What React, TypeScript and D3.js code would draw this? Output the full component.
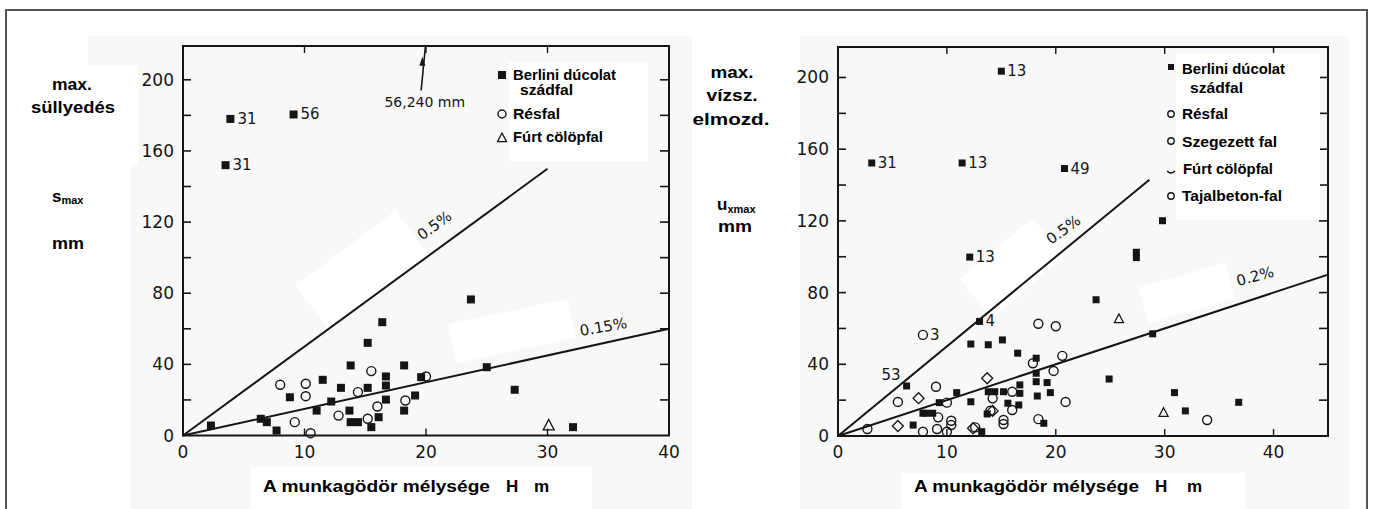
import React from 'react';
import * as d3 from 'd3';

// ---------- data ----------
const xTicks = [0, 10, 20, 30, 40];
const yTickLabels = [0, 40, 80, 120, 160, 200];
const yTickMarks = [20, 40, 60, 80, 100, 120, 140, 160, 180, 200];
const xTickMarks = [10, 20, 30, 40];

// left chart: max. süllyedés (H m, s mm)
const leftSquares: [number, number][] = [
  [2.3, 5.6], [6.4, 9.4], [6.9, 7.5], [7.7, 2.8], [8.8, 21.5], [11.0, 14], [11.5, 31.3],
  [12.2, 19.1], [13.0, 26.8], [13.7, 14], [13.8, 39.4], [13.8, 7.5], [14.4, 7.5], [15.2, 52.1],
  [15.2, 26.8], [15.5, 4.7], [16.1, 10.3], [16.4, 63.7], [16.7, 33.2], [16.7, 28.1], [16.7, 20.2],
  [18.2, 39.4], [18.2, 14], [19.1, 22.5], [19.6, 32.8], [23.7, 76.5], [25.0, 38.4], [27.3, 25.7],
  [32.1, 4.7],
];
const leftLabeled = [
  { h: 3.9, v: 178, label: '31' },
  { h: 3.5, v: 152, label: '31' },
  { h: 9.1, v: 180.5, label: '56' },
];
const leftCircles: [number, number][] = [
  [8.0, 28.5], [10.1, 29.1], [10.1, 22.1], [9.2, 7.5], [10.5, 1.3], [12.8, 11.2], [14.4, 24.4],
  [15.5, 36.2], [15.2, 9.4], [16.0, 16.3], [18.3, 19.7], [20.0, 33.2],
];
const leftTriangles: [number, number][] = [[30.1, 5.6]];
const leftLines = [
  { label: '0.5%', k: 5, hEnd: 30, lh: 20.7, lv: 118, rot: -36 },
  { label: '0.15%', k: 1.5, hEnd: 40, lh: 34.6, lv: 61, rot: -10 },
];
const leftLegend = ['Berlini dúcolat', 'szádfal', 'Résfal', 'Fúrt cölöpfal'];

// right chart: max. vízsz. elmozd. (H m, u mm)
const rightSquares: [number, number][] = [
  [12.2, 51.3], [13.8, 50.9], [15.1, 53.6], [16.5, 46.2], [18.2, 43.4], [18.2, 35.0], [18.2, 30.3],
  [18.3, 22.3], [19.2, 29.8], [19.5, 24.2], [18.9, 7.1], [16.7, 28.5], [16.7, 23.8], [16.6, 17.3],
  [15.6, 18.3], [15.2, 24.7], [14.4, 24.7], [13.8, 24.7], [13.7, 12.3], [12.2, 19.1], [10.9, 24.2],
  [9.3, 18.6], [8.7, 12.7], [8.1, 12.7], [7.8, 12.7], [6.9, 6.1], [13.2, 2.4], [23.7, 76.0],
  [24.9, 31.8], [27.4, 99.5], [27.4, 102.5], [28.9, 57.0], [30.9, 24.2], [31.9, 14.0], [36.8, 18.8],
  [29.8, 120.1],
];
const rightLabeled = [
  { h: 12.1, v: 99.8, label: '13' },
  { h: 13.0, v: 63.9, label: '4' },
  { h: 6.3, v: 27.9, label: '53' },
  { h: 15.0, v: 203.5, label: '13' },
  { h: 3.1, v: 152.3, label: '31' },
  { h: 11.4, v: 152.3, label: '13' },
  { h: 20.8, v: 149.2, label: '49' },
];
const rightCircles: [number, number][] = [
  [2.7, 3.9], [5.5, 19.0], [7.8, 2.4], [9.0, 27.5], [9.2, 10.4], [9.1, 3.9], [10.0, 18.6],
  [10.0, 2.4], [10.4, 8.5], [10.4, 6.1], [12.6, 4.8], [14.2, 21.0], [15.2, 8.9], [15.2, 6.7],
  [16.0, 14.5], [16.0, 24.7], [17.9, 40.6], [18.4, 62.6], [20.0, 61.2], [19.8, 36.3], [20.6, 44.7],
  [20.9, 19.0], [18.4, 9.4], [14.0, 14.1], [33.9, 8.9],
];
const rightLabeledCircles = [{ h: 7.8, v: 56.4, label: '3' }];
const rightDiamonds: [number, number][] = [
  [5.5, 5.6], [7.4, 21.1], [13.7, 32.2], [12.4, 4.3], [14.2, 14.0],
];
const rightTriangles: [number, number][] = [[25.8, 65.3], [29.9, 13.0]];
const rightLines = [
  { label: '0.5%', k: 5, hEnd: 28.6, lh: 20.7, lv: 115, rot: -36 },
  { label: '0.2%', k: 2, hEnd: 45, lh: 38.3, lv: 89, rot: -15 },
];
const rightLegend = ['Berlini dúcolat', 'szádfal', 'Résfal', 'Szegezett fal', 'Fúrt cölöpfal', 'Tajalbeton-fal'];

// ---------- styles ----------
const INK = '#151515';
const SCAN = '#f8f8f8';
const TICKFONT = 'DejaVu Sans, sans-serif';
const LABFONT = 'Liberation Sans, Arial, sans-serif';

const Square = ({ x, y, s = 8 }: { x: number; y: number; s?: number }) => (
  <rect x={x - s / 2} y={y - s / 2} width={s} height={s} fill={INK} />
);
const Circle = ({ x, y, r = 4.5 }: { x: number; y: number; r?: number }) => (
  <circle cx={x} cy={y} r={r} fill="none" stroke={INK} strokeWidth={1.4} />
);
const Tri = ({ x, y, s = 10 }: { x: number; y: number; s?: number }) => {
  const p = d3.path();
  p.moveTo(x, y - s * 0.55);
  p.lineTo(x + s / 2, y + s * 0.4);
  p.lineTo(x - s / 2, y + s * 0.4);
  p.closePath();
  return <path d={p.toString()} fill="none" stroke={INK} strokeWidth={1.3} />;
};
const Diamond = ({ x, y, s = 5.5 }: { x: number; y: number; s?: number }) => {
  const p = d3.path();
  p.moveTo(x, y - s);
  p.lineTo(x + s, y);
  p.lineTo(x, y + s);
  p.lineTo(x - s, y);
  p.closePath();
  return <path d={p.toString()} fill="none" stroke={INK} strokeWidth={1.3} />;
};

function Frame({ x, y, xMax, yMax, xMarks }: any) {
  const [x0, x1] = [x(0), x(xMax)];
  const [y0, y1] = [y(0), y(yMax)];
  return (
    <g>
      <rect x={x0} y={y1} width={x1 - x0} height={y0 - y1} fill="none" stroke={INK} strokeWidth={2} />
      {yTickMarks.map((t) => (
        <g key={'y' + t}>
          <line x1={x0} x2={x0 + 8} y1={y(t)} y2={y(t)} stroke={INK} strokeWidth={1.6} />
          <line x1={x1 - 9} x2={x1} y1={y(t)} y2={y(t)} stroke={INK} strokeWidth={1.6} />
        </g>
      ))}
      {xMarks.map((t: number) => (
        <g key={'x' + t}>
          <line x1={x(t)} x2={x(t)} y1={y1} y2={y1 + 7} stroke={INK} strokeWidth={1.4} />
          <line x1={x(t)} x2={x(t)} y1={y0} y2={y0 - 7} stroke={INK} strokeWidth={1.4} />
        </g>
      ))}
      {xTicks.map((t) => (
        <text key={'xl' + t} x={x(t)} y={458} textAnchor="middle" fontFamily={TICKFONT} fontSize={17} fill={INK}>
          {t}
        </text>
      ))}
      {yTickLabels.map((t) => (
        <text key={'yl' + t} x={x0 - 9} y={y(t) + 6} textAnchor="end" fontFamily={TICKFONT} fontSize={17} fill={INK}>
          {t}
        </text>
      ))}
    </g>
  );
}

function RatioLines({ x, y, lines }: any) {
  return (
    <g>
      {lines.map((l: any) => {
        const line = d3.line<[number, number]>().x((d) => x(d[0])).y((d) => y(d[1]));
        return (
          <g key={l.label}>
            <path d={line([[0, 0], [l.hEnd, l.k * l.hEnd]]) || ''} stroke={INK} strokeWidth={2} fill="none" />
            <text
              transform={`translate(${x(l.lh)},${y(l.lv)}) rotate(${l.rot})`}
              textAnchor="middle"
              dominantBaseline="central"
              fontFamily={TICKFONT}
              fontSize={15}
              fill={INK}
            >
              {l.label}
            </text>
          </g>
        );
      })}
    </g>
  );
}

const LegText = ({ x, y, w, children }: any) => (
  <text x={x} y={y} fontFamily={LABFONT} fontWeight="bold" fontSize={15} fill="#000" textLength={w} lengthAdjust="spacingAndGlyphs">
    {children}
  </text>
);

function Patch({ cx, cy, w, h, rot }: any) {
  return <rect x={-w / 2} y={-h / 2} width={w} height={h} fill="#fff" transform={`translate(${cx},${cy}) rotate(${rot})`} />;
}

export default function App() {
  const xL = d3.scaleLinear().domain([0, 40]).range([183, 669]);
  const yL = d3.scaleLinear().domain([0, 219]).range([435.5, 46]);
  const xR = d3.scaleLinear().domain([0, 45]).range([838, 1328]);
  const yR = d3.scaleLinear().domain([0, 217]).range([436, 47]);

  return (
    <svg width={1375} height={509} style={{ position: 'absolute', left: 0, top: 0, display: 'block' }}>
      <rect x={0} y={0} width={1375} height={509} fill="#fff" />
      {/* scanned regions */}
      <rect x={88} y={36} width={604} height={480} fill={SCAN} />
      <rect x={800} y={36} width={549} height={480} fill={SCAN} />
      {/* pasted white label boxes */}
      <rect x={6} y={65} width={132} height={100} fill="#fff" />
      <rect x={6} y={165} width={124} height={350} fill="#fff" />
      <rect x={700} y={40} width={100} height={470} fill="#fff" />
      <rect x={250} y={467} width={342} height={50} fill="#fff" />
      <rect x={901} y={473} width={344} height={50} fill="#fff" />
      <Patch cx={362} cy={270} w={125} h={55} rot={-37} />
      <Patch cx={512} cy={331} w={122} h={40} rot={-12} />
      <Patch cx={1012} cy={268} w={95} h={50} rot={-40} />
      <Patch cx={1187} cy={293} w={90} h={37} rot={-16} />

      {/* outer border */}
      <rect x={6} y={10} width={1361} height={520} fill="none" stroke="#555" strokeWidth={2} />

      {/* ---------- LEFT CHART ---------- */}
      <Frame x={xL} y={yL} xMax={40} yMax={219} xMarks={[10, 20, 30]} />
      <RatioLines x={xL} y={yL} lines={leftLines} />
      {leftSquares.map((d, i) => <Square key={'ls' + i} x={xL(d[0])} y={yL(d[1])} />)}
      {leftCircles.map((d, i) => <Circle key={'lc' + i} x={xL(d[0])} y={yL(d[1])} />)}
      {leftTriangles.map((d, i) => <Tri key={'lt' + i} x={xL(d[0])} y={yL(d[1])} s={11} />)}
      {leftLabeled.map((d, i) => (
        <g key={'ll' + i}>
          <Square x={xL(d.h)} y={yL(d.v)} />
          <text x={xL(d.h) + 7} y={yL(d.v) + 5} fontFamily={TICKFONT} fontSize={15} fill={INK}>{d.label}</text>
        </g>
      ))}
      {/* off-scale arrow */}
      <line x1={xL(19.6)} y1={yL(194)} x2={xL(19.95)} y2={yL(218.5)} stroke={INK} strokeWidth={1.6} />
      <path d={`M${xL(19.7)},${yL(213)} l-3,9 l6,0 z`} fill={INK} />
      <text x={xL(19.9)} y={yL(187.5) + 5} textAnchor="middle" fontFamily={TICKFONT} fontSize={14} fill={INK}>56,240 mm</text>

      {/* left legend */}
      <rect x={509} y={62} width={139} height={99} fill="#fff" />
      <Square x={502} y={75} s={8} />
      <LegText x={513} y={80} w={103}>{leftLegend[0]}</LegText>
      <LegText x={520} y={95} w={53}>{leftLegend[1]}</LegText>
      <Circle x={502} y={114} r={4} />
      <LegText x={513} y={119} w={47}>{leftLegend[2]}</LegText>
      <Tri x={502} y={138} s={9} />
      <LegText x={513} y={142} w={90}>{leftLegend[3]}</LegText>

      {/* left y title */}
      <text x={72} y={90} textAnchor="middle" fontFamily={LABFONT} fontWeight="bold" fontSize={16} textLength={40} lengthAdjust="spacingAndGlyphs">max.</text>
      <text x={73} y={113} textAnchor="middle" fontFamily={LABFONT} fontWeight="bold" fontSize={16} textLength={84} lengthAdjust="spacingAndGlyphs">süllyedés</text>
      <text x={52} y={202} fontFamily={LABFONT} fontWeight="bold" fontSize={17}>
        s<tspan fontSize={11} dy={2}>max</tspan>
      </text>
      <text x={52} y={249} fontFamily={LABFONT} fontWeight="bold" fontSize={16} textLength={32} lengthAdjust="spacingAndGlyphs">mm</text>

      {/* left x title */}
      <text x={263} y={492} fontFamily={LABFONT} fontWeight="bold" fontSize={17} textLength={227} lengthAdjust="spacingAndGlyphs">A munkagödör mélysége</text>
      <text x={506} y={492} fontFamily={LABFONT} fontWeight="bold" fontSize={17}>H</text>
      <text x={534} y={492} fontFamily={LABFONT} fontWeight="bold" fontSize={17}>m</text>

      {/* ---------- RIGHT CHART ---------- */}
      <Frame x={xR} y={yR} xMax={45} yMax={217} xMarks={xTickMarks} />
      <RatioLines x={xR} y={yR} lines={rightLines} />
      {rightSquares.map((d, i) => <Square key={'rs' + i} x={xR(d[0])} y={yR(d[1])} s={7} />)}
      {rightCircles.map((d, i) => <Circle key={'rc' + i} x={xR(d[0])} y={yR(d[1])} />)}
      {rightDiamonds.map((d, i) => <Diamond key={'rd' + i} x={xR(d[0])} y={yR(d[1])} />)}
      {rightTriangles.map((d, i) => <Tri key={'rt' + i} x={xR(d[0])} y={yR(d[1])} s={9} />)}
      {rightLabeled.map((d, i) => {
        const left = d.label === '53';
        return (
          <g key={'rl' + i}>
            <Square x={xR(d.h)} y={yR(d.v)} s={7} />
            <text
              x={left ? xR(d.h) - 6 : xR(d.h) + 6}
              y={left ? yR(d.v) - 6 : yR(d.v) + 5}
              textAnchor={left ? 'end' : 'start'}
              fontFamily={TICKFONT}
              fontSize={15}
              fill={INK}
            >
              {d.label}
            </text>
          </g>
        );
      })}
      {rightLabeledCircles.map((d, i) => (
        <g key={'rlc' + i}>
          <Circle x={xR(d.h)} y={yR(d.v)} />
          <text x={xR(d.h) + 7} y={yR(d.v) + 5} fontFamily={TICKFONT} fontSize={15} fill={INK}>{d.label}</text>
        </g>
      ))}

      {/* right legend */}
      <rect x={1176} y={53} width={144} height={167} fill="#fff" />
      <Square x={1171} y={67} s={6} />
      <LegText x={1182} y={74} w={103}>{rightLegend[0]}</LegText>
      <LegText x={1190} y={93} w={53}>{rightLegend[1]}</LegText>
      <Circle x={1171} y={114} r={3.2} />
      <LegText x={1182} y={119} w={46}>{rightLegend[2]}</LegText>
      <Circle x={1171} y={141} r={3.2} />
      <LegText x={1182} y={147} w={95}>{rightLegend[3]}</LegText>
      <path d="M1167,171 Q1171,175 1175,171" fill="none" stroke={INK} strokeWidth={1.2} />
      <LegText x={1183} y={174} w={90}>{rightLegend[4]}</LegText>
      <Circle x={1171} y={196} r={3.2} />
      <LegText x={1182} y={201} w={100}>{rightLegend[5]}</LegText>

      {/* right y title */}
      <text x={732} y={78} textAnchor="middle" fontFamily={LABFONT} fontWeight="bold" fontSize={17} textLength={43} lengthAdjust="spacingAndGlyphs">max.</text>
      <text x={732} y={101} textAnchor="middle" fontFamily={LABFONT} fontWeight="bold" fontSize={17} textLength={51} lengthAdjust="spacingAndGlyphs">vízsz.</text>
      <text x={731} y={125} textAnchor="middle" fontFamily={LABFONT} fontWeight="bold" fontSize={17} textLength={77} lengthAdjust="spacingAndGlyphs">elmozd.</text>
      <text x={717} y={210} fontFamily={LABFONT} fontWeight="bold" fontSize={17}>
        u<tspan fontSize={11} dy={3}>xmax</tspan>
      </text>
      <text x={735} y={232} textAnchor="middle" fontFamily={LABFONT} fontWeight="bold" fontSize={16} textLength={34} lengthAdjust="spacingAndGlyphs">mm</text>

      {/* right x title */}
      <text x={914} y={492} fontFamily={LABFONT} fontWeight="bold" fontSize={17} textLength={225} lengthAdjust="spacingAndGlyphs">A munkagödör mélysége</text>
      <text x={1155} y={492} fontFamily={LABFONT} fontWeight="bold" fontSize={17}>H</text>
      <text x={1187} y={492} fontFamily={LABFONT} fontWeight="bold" fontSize={17}>m</text>
    </svg>
  );
}
